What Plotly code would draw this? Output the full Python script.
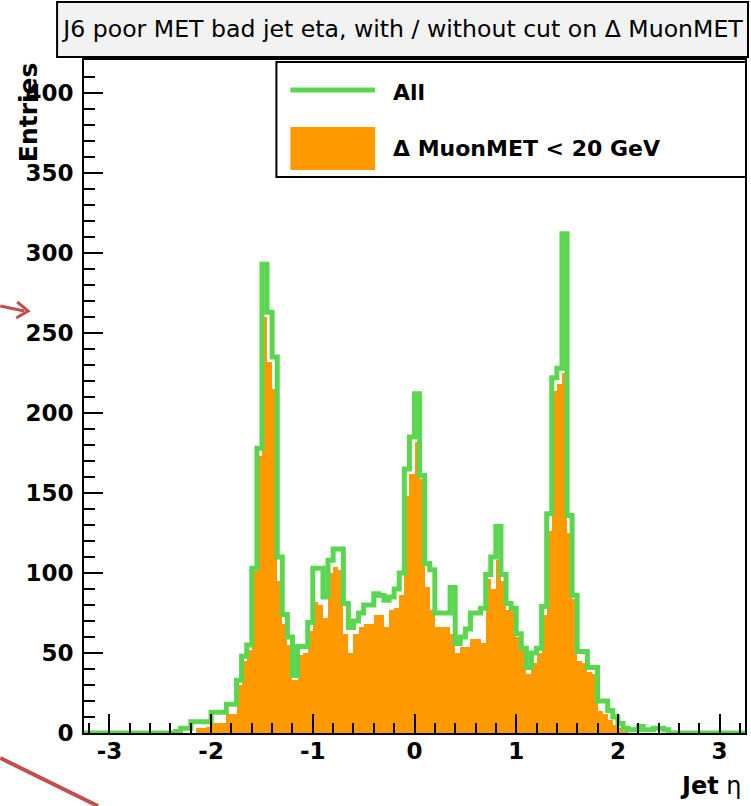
import plotly.graph_objects as go

# ---------------- data ----------------
eta_low = -3.25          # lower edge of first bin
bin_width = 0.05
n_bins = 130

# "All" (green outline) entries per bin, from eta=-3.25 upward
all_counts = [
    0, 0, 0, 0, 0, 0, 0, 0, 0, 0, 0, 0, 0, 0, 0, 0, 0, 0,
    1, 3, 3, 7, 7, 7, 7, 13, 13, 13, 18, 18, 33, 48, 55, 103, 178, 293,
    263, 235, 110, 74, 60, 36, 54, 54, 69, 103, 103, 85, 108, 115, 115, 81,
    66, 70, 75, 80, 80, 87, 86, 83, 85, 90, 100, 165, 185, 212,
    161, 106, 102, 75, 75, 75, 91, 56, 60, 65, 75, 75, 78, 99, 110, 129,
    99, 81, 78, 62, 53, 41, 50, 53, 79, 137, 222, 228, 312,
    136, 86, 51, 51, 41, 41, 20, 20, 14, 10, 6, 3, 2, 2, 4, 2, 2, 3, 3, 2,
    0, 0, 0, 0, 0, 0, 0, 0, 0, 0, 0, 0, 0, 0, 0,
]

# "Delta MuonMET < 20 GeV" (orange filled) entries per bin
cut_counts = [
    0, 0, 0, 0, 0, 0, 0, 0, 0, 0, 0, 0, 0, 0, 0, 0, 0, 0, 0, 0, 0, 0,
    3, 3, 4, 6, 6, 6, 12, 12, 30, 45, 52, 101, 173, 260,
    232, 215, 95, 68, 55, 33, 49, 50, 64, 82, 80, 72, 100, 104, 102, 62,
    50, 62, 66, 68, 68, 74, 74, 66, 77, 78, 86, 148, 162, 182,
    159, 91, 77, 66, 66, 66, 62, 50, 54, 54, 59, 59, 56, 96, 90, 108,
    95, 77, 76, 60, 52, 37, 44, 50, 74, 126, 214, 218, 225,
    125, 84, 45, 44, 38, 37, 14, 12, 8, 5, 3, 1,
    0, 0, 0, 0, 0, 0, 0, 0, 0, 0, 0, 0, 0, 0, 0, 0, 0, 0, 0, 0, 0, 0, 0,
]

x_tick_vals = [-3, -2, -1, 0, 1, 2, 3]
y_tick_vals = [0, 50, 100, 150, 200, 250, 300, 350, 400]

title_text = "J6 poor MET bad jet eta, with / without cut on \u0394 MuonMET"
label_all = "All"
label_cut = "\u0394 MuonMET < 20 GeV"
x_title = "<b>Jet</b> \u03b7"
y_title = "Entries"

GREEN = "#5bd650"
ORANGE = "#ff9900"

# ---------------- derived ----------------
edges = [round(eta_low + i * bin_width, 4) for i in range(n_bins + 1)]
centers = [round(eta_low + (i + 0.5) * bin_width, 4) for i in range(n_bins)]

# ---------------- figure ----------------
W, H = 751, 806
L, R, T, B = 84, 4, 60, 73
pw, ph = W - L - R, H - T - B


def px(xpix):
    return (xpix - L) / pw


def py(ypix):
    return (H - B - ypix) / ph


fig = go.Figure()

fig.add_trace(go.Bar(
    x=centers, y=cut_counts, width=bin_width,
    marker=dict(color=ORANGE, line=dict(width=0)),
    name=label_cut, showlegend=False,
))

fig.add_trace(go.Scatter(
    x=edges, y=all_counts + [all_counts[-1]],
    mode="lines", line=dict(color=GREEN, width=5, shape="hv"),
    name=label_all, showlegend=False,
))

bold = dict(family="DejaVu Sans", size=23, color="black", weight="bold")

fig.update_layout(
    width=W, height=H,
    margin=dict(l=L, r=R, t=T, b=B, pad=0),
    paper_bgcolor="white", plot_bgcolor="white",
    bargap=0,
    title=dict(
        text=title_text, x=403 / W, xanchor="center", xref="container",
        y=1 - 29 / H, yanchor="middle", yref="container",
        font=dict(family="DejaVu Sans", size=23.6, color="black"),
    ),
    xaxis=dict(
        range=[eta_low, eta_low + n_bins * bin_width],
        tickvals=x_tick_vals, ticktext=[str(v) for v in x_tick_vals],
        ticks="inside", ticklen=19, tickwidth=2, tickcolor="black",
        minor=dict(dtick=0.2, tick0=0, ticks="inside", ticklen=10,
                   tickwidth=2, tickcolor="black"),
        showline=True, linecolor="black", linewidth=2, mirror=True,
        showgrid=False, zeroline=False,
        tickfont=bold, ticklabelstandoff=-4,
    ),
    yaxis=dict(
        range=[0, 420.6],
        tickvals=y_tick_vals, ticktext=[str(v) for v in y_tick_vals],
        ticks="inside", ticklen=19, tickwidth=2, tickcolor="black",
        minor=dict(dtick=10, tick0=0, ticks="inside", ticklen=11,
                   tickwidth=2, tickcolor="black"),
        showline=True, linecolor="black", linewidth=2, mirror=True,
        showgrid=False, zeroline=False,
        tickfont=bold, ticklabelstandoff=4,
    ),
)

shapes = []
# title box
shapes.append(dict(type="rect", xref="paper", yref="paper",
                   x0=px(57), x1=px(750), y0=py(57), y1=py(2),
                   fillcolor="#f2f2f2", line=dict(color="black", width=2),
                   layer="above"))
# legend box
shapes.append(dict(type="rect", xref="paper", yref="paper",
                   x0=px(277), x1=px(748), y0=py(177), y1=py(62),
                   fillcolor="white", line=dict(color="black", width=2),
                   layer="above"))
# legend symbols
shapes.append(dict(type="line", xref="paper", yref="paper",
                   x0=px(291), x1=px(376), y0=py(90), y1=py(90),
                   line=dict(color=GREEN, width=5), layer="above"))
shapes.append(dict(type="rect", xref="paper", yref="paper",
                   x0=px(291), x1=px(376), y0=py(170), y1=py(127),
                   fillcolor=ORANGE, line=dict(width=0), layer="above"))
# slide annotation marks (red)
shapes.append(dict(type="line", xref="paper", yref="paper",
                   x0=px(0), x1=px(24), y0=py(306), y1=py(311),
                   line=dict(color="#c0504d", width=3), layer="above"))
shapes.append(dict(type="path", xref="paper", yref="paper",
                   path=f"M {px(17)} {py(302)} L {px(28)} {py(311)} L {px(16)} {py(318)}",
                   line=dict(color="#c0504d", width=3), layer="above"))
shapes.append(dict(type="line", xref="paper", yref="paper",
                   x0=px(0), x1=px(98), y0=py(758), y1=py(806),
                   line=dict(color="#c0504d", width=4), layer="above"))
fig.update_layout(shapes=shapes)

legend_font = dict(family="DejaVu Sans", size=22, color="black", weight="bold")
fig.add_annotation(text=label_all, xref="paper", yref="paper",
                   x=px(392), y=py(92), xanchor="left", yanchor="middle",
                   showarrow=False, font=legend_font)
fig.add_annotation(text=label_cut, xref="paper", yref="paper",
                   x=px(392), y=py(148), xanchor="left", yanchor="middle",
                   showarrow=False, font=legend_font)
fig.add_annotation(text=x_title, xref="paper", yref="paper",
                   x=px(746), y=py(786), xanchor="right", yanchor="middle",
                   showarrow=False, font=dict(family="DejaVu Sans", size=24, color="black"))
fig.add_annotation(text=y_title, xref="paper", yref="paper",
                   x=px(28), y=py(60), xanchor="center", yanchor="top",
                   textangle=-90, showarrow=False,
                   font=dict(family="DejaVu Sans", size=25, color="black", weight="bold"))

fig.write_html("out.html")
